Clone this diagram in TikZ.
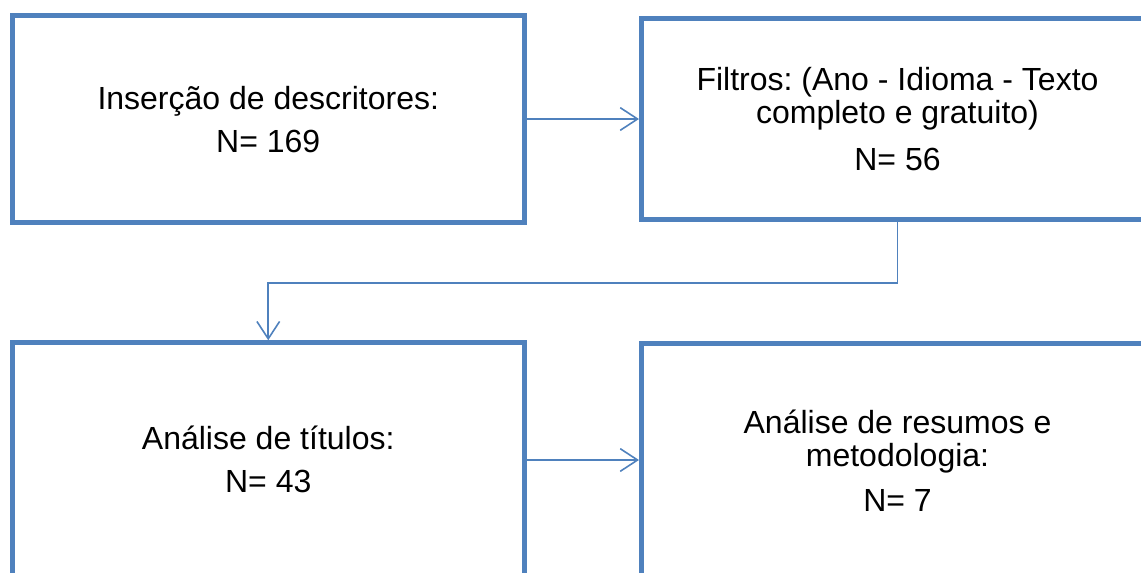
\documentclass[tikz,border=0pt]{standalone}
\usepackage{fontspec}
\setmainfont{Liberation Sans}
\usepackage{tikz}
\usetikzlibrary{arrows.meta}
\definecolor{azul}{HTML}{4F81BD}
\frenchspacing
\tikzstyle{caixa}=[shape=rectangle, draw=azul, line width=3.75pt, minimum width=384pt, inner sep=0, align=center, font=\fontsize{24}{24.75}\selectfont]
\tikzstyle{seta}=[draw=azul, line width=1.2pt, -{Straight Barb[length=13pt, width=17pt]}]

\begin{document}
\begin{tikzpicture}[x=0.75pt, y=-0.75pt]
\useasboundingbox (0,0) rectangle (1141,572);
\node[caixa, minimum height=155.6pt] (ins) at (268.25,119.25) {Inserção de descritores:\\[7.5pt]N= 169};
\node[caixa, minimum height=151.1pt] (fil) at (897.5,119.25) {Filtros: (Ano - Idioma - Texto\\completo e gratuito)\\[10.5pt]N= 56};
\node[caixa, minimum height=175.5pt] (tit) at (268.25,459.75) {Análise de títulos:\\[7.5pt]N= 43};
\node[caixa, minimum height=175.5pt] (res) at (897.5,460.5) {Análise de resumos e\\metodologia:\\[9pt]N= 7};
\coordinate (dobra) at (897.5,283);
\draw[seta] (ins.east |- 0,119) -- (fil.west |- 0,119);
\draw[seta] (fil.south) -- (dobra) -| (tit.north);
\draw[seta] (tit.east |- 0,460) -- (res.west |- 0,460);
\end{tikzpicture}
\end{document}
